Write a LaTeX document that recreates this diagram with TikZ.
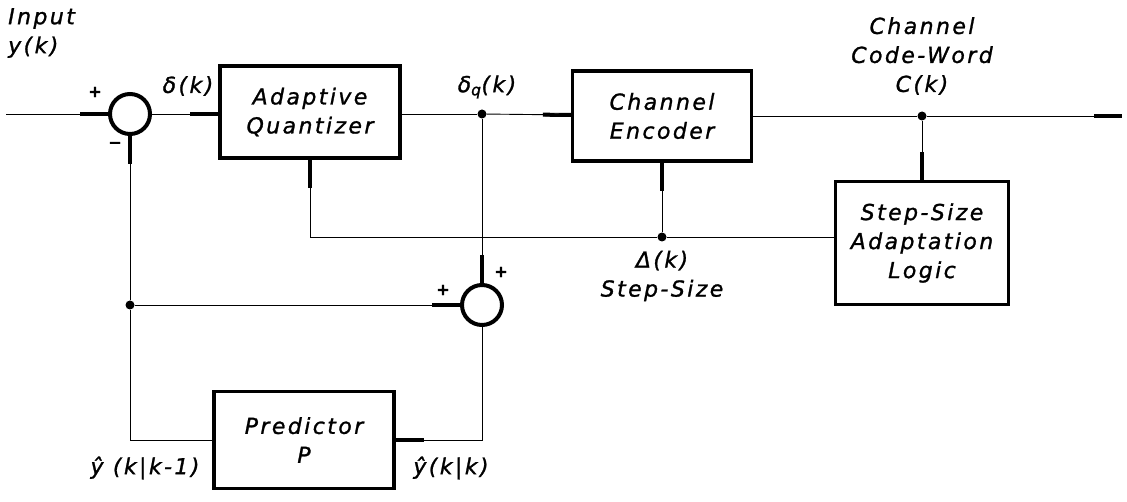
\documentclass[tikz,border=0pt]{standalone}
\usepackage{fontspec}
\setmainfont{DejaVu Sans}[LetterSpace=11, FakeBold=1.2]
\usepackage{tikz}
\usetikzlibrary{arrows.meta}

\begin{document}
\begin{tikzpicture}[
    x=1pt, y=-1pt,
    font=\fontsize{22}{29}\selectfont\itshape,
    box/.style={draw, line width=3.2pt, minimum width=180pt, minimum height=92pt,
                align=center, inner sep=0pt},
    summer/.style={draw, circle, line width=4pt, minimum size=40pt, inner sep=0pt},
    dot/.style={circle, fill, inner sep=0pt, minimum size=9pt},
    lbl/.style={align=center, inner sep=0pt},
    sgn/.style={font=\fontsize{16}{16}\selectfont\bfseries, inner sep=0pt},
    wire/.style={line width=0.9pt},
    arr/.style={wire, -{Rectangle[length=28pt, width=4pt]}},
    rarr/.style={wire, {Rectangle[length=28pt, width=4pt]}-}]

    \useasboundingbox (0,0) rectangle (1127,502);

    \coordinate (in) at (6,114);
    \node[summer] (sum1) at (130,114) {};
    \node[box] (quant) at (310,112) {Adaptive\\Quantizer};
    \node[dot] (dq) at (482,114) {};
    \node[box, minimum width=179pt, minimum height=90pt] (enc) at (662,116) {Channel\\Encoder};
    \node[dot] (ck) at (922,116) {};
    \coordinate (out) at (1122,116);
    \node[box, minimum width=173pt, minimum height=123pt] (step) at (922,243)
        {Step-Size\\Adaptation\\Logic};
    \node[dot] (dlt) at (662,237) {};
    \node[summer] (sum2) at (482,305) {};
    \node[dot] (fb) at (130,305) {};
    \node[box, minimum height=97pt] (pred) at (304,440) {Predictor\\P};

    \draw[arr] (in) -- (sum1);
    \draw[arr] (sum1) -- (sum1 -| quant.west);
    \draw[wire] (dq -| quant.east) -- (dq);
    \draw[arr] (dq) -- (enc);
    \draw[wire] (enc) -- (ck);
    \draw[arr] (ck) -- (out);
    \draw[arr] (ck) -- (step);
    \draw[arr] (dq) -- (sum2);
    \draw[arr] (dlt) -- (enc);
    \draw[wire] (step.west |- dlt) -- (dlt);
    \draw[arr] (dlt) -| (quant);
    \draw[arr] (fb) -- (sum1);
    \draw[arr] (fb) -- (sum2);
    \draw[wire] (fb) |- (pred);
    \draw[rarr] (pred) -| (sum2);

    \node[lbl, anchor=north west, align=left] (inlbl) at (8,8) {Input\\y(k)};
    \node[lbl] (dlbl) at (188,86) {δ(k)};
    \node[lbl] (dqlbl) at (487,87) {δ\textsubscript{q}(k)};
    \node[lbl] (cklbl) at (922,56) {Channel\\Code-Word\\C(k)};
    \node[lbl] (dltlbl) at (662,276) {Δ(k)\\Step-Size};
    \node[lbl] (yp1) at (145,468) {ŷ (k|k-1)};
    \node[lbl] (yp2) at (451,468) {ŷ(k|k)};

    \node[sgn] (s1p) at (95,92) {+};
    \node[sgn] (s1m) at (115,145) {−};
    \node[sgn] (s2l) at (443,290) {+};
    \node[sgn] (s2t) at (501,272) {+};
\end{tikzpicture}
\end{document}
